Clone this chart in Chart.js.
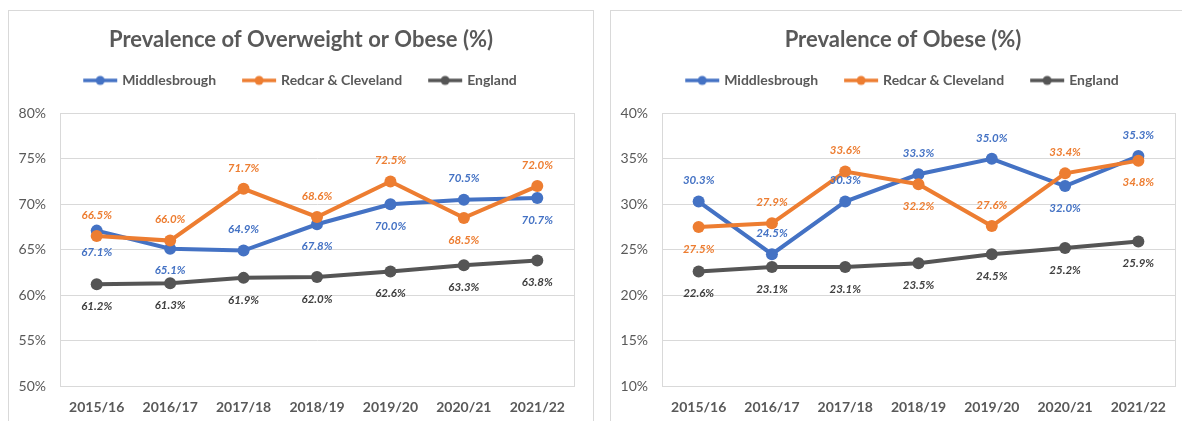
<!DOCTYPE html>
<html>
<head>
<meta charset="utf-8">
<script src="https://cdn.jsdelivr.net/npm/chart.js@4.4.1/dist/chart.umd.min.js"></script>
<style>
  body { margin: 0; background: #fff; width: 1182px; height: 421px; overflow: hidden; position: relative; }
  .frame { position: absolute; border: 1px solid #D9D9D9; border-bottom: none; background: #fff; height: 420px; }
  #f1 { left: 8px; top: 10px; width: 584px; }
  #f2 { left: 610px; top: 10px; width: 600px; border-right: none; }
  canvas { position: absolute; left: 0; top: 0; }
</style>
</head>
<body>
<div class="frame" id="f1"><canvas id="overweight" width="584" height="410"></canvas></div>
<div class="frame" id="f2"><canvas id="obese" width="584" height="410"></canvas></div>
<script>
const years = ['2015/16', '2016/17', '2017/18', '2018/19', '2019/20', '2020/21', '2021/22'];

// Prevalence of overweight or obese (%)
const owMiddlesbrough = [67.1, 65.1, 64.9, 67.8, 70.0, 70.5, 70.7];
const owRedcar = [66.5, 66.0, 71.7, 68.6, 72.5, 68.5, 72.0];
const owEngland = [61.2, 61.3, 61.9, 62.0, 62.6, 63.3, 63.8];

// Prevalence of obese (%)
const obMiddlesbrough = [30.3, 24.5, 30.3, 33.3, 35.0, 32.0, 35.3];
const obRedcar = [27.5, 27.9, 33.6, 32.2, 27.6, 33.4, 34.8];
const obEngland = [22.6, 23.1, 23.1, 23.5, 24.5, 25.2, 25.9];

const BLUE = '#4472C4', ORANGE = '#ED7D31', GREY = '#555555', TEXT = '#595959';
const FONT = 'Lato, "Open Sans", sans-serif';

// line + dot marker for the legend
function marker(color) {
    const c = document.createElement('canvas');
    c.width = 36; c.height = 12;
    const g = c.getContext('2d');
    g.strokeStyle = color; g.lineWidth = 3.5;
    g.beginPath(); g.moveTo(1, 6); g.lineTo(35, 6); g.stroke();
    g.fillStyle = color;
    g.beginPath(); g.arc(18, 6, 4.5, 0, Math.PI * 2); g.fill();
    return c;
}

const extras = {
    id: 'extras',
    afterInit(chart) {
        // leave room between legend and plot, like the Excel layout
        const legend = chart.legend;
        const fit = legend.fit;
        legend.fit = function () { fit.call(this); this.height = 68; };
    },
    beforeDatasetsDraw(chart) {
        const { ctx, chartArea: a } = chart;
        ctx.save();
        ctx.strokeStyle = '#D9D9D9';
        ctx.lineWidth = 1;
        ctx.strokeRect(Math.round(a.left) + 0.5, Math.round(a.top) + 0.5,
            Math.round(a.right - a.left), Math.round(a.bottom - a.top));
        ctx.restore();
    },
    afterDatasetsDraw(chart) {
        const ctx = chart.ctx;
        ctx.save();
        ctx.font = 'italic bold 11.5px ' + FONT;
        ctx.textAlign = 'center';
        ctx.textBaseline = 'middle';
        chart.data.datasets.forEach((ds, i) => {
            chart.getDatasetMeta(i).data.forEach((pt, j) => {
                const dy = ds.labelPos[j] === 'a' ? -21 : 22;
                ctx.fillStyle = ds.labelColor;
                ctx.fillText(ds.data[j].toFixed(1) + '%', pt.x, pt.y + dy);
            });
        });
        ctx.restore();
    }
};

function line(label, data, color, labelColor, labelPos, order) {
    return {
        label, data, order, labelColor, labelPos,
        borderColor: color,
        backgroundColor: color,
        pointBackgroundColor: color,
        pointBorderWidth: 0,
        borderWidth: 4,
        pointRadius: 6,
        tension: 0
    };
}

function makeChart(id, title, min, max, datasets, rightGap) {
    return new Chart(document.getElementById(id), {
        type: 'line',
        data: { labels: years, datasets },
        plugins: [extras],
        options: {
            responsive: false,
            animation: false,
            layout: { padding: 0 },
            plugins: {
                title: {
                    display: true,
                    text: title,
                    color: TEXT,
                    font: { family: FONT, size: 22, weight: 'bold' },
                    padding: { top: 16, bottom: -8 }
                },
                legend: {
                    position: 'top',
                    labels: {
                        usePointStyle: true,
                        pointStyleWidth: 30,
                        padding: 28,
                        color: TEXT,
                        font: { family: FONT, size: 14, weight: 'bold' },
                        generateLabels: chart => chart.data.datasets.map((ds, i) => ({
                            text: ds.label,
                            fillStyle: ds.borderColor,
                            strokeStyle: ds.borderColor,
                            lineWidth: 0,
                            pointStyle: marker(ds.borderColor),
                            fontColor: TEXT,
                            hidden: false,
                            datasetIndex: i
                        }))
                    }
                },
                tooltip: { enabled: false }
            },
            scales: {
                x: {
                    offset: true,
                    grid: { display: false, drawTicks: false },
                    border: { display: true, color: '#D9D9D9' },
                    ticks: { color: TEXT, padding: 13, font: { family: FONT, size: 14, weight: 'bold' } },
                    afterFit: s => { s.height = 35; }
                },
                y: {
                    min, max,
                    grid: { color: '#D9D9D9', drawTicks: false },
                    border: { display: true, color: '#D9D9D9' },
                    ticks: {
                        stepSize: 5,
                        padding: 14,
                        color: TEXT,
                        font: { family: FONT, size: 14 },
                        callback: v => v + '%'
                    },
                    afterFit: s => { s.width = 51; }
                },
                gap: {
                    position: 'right',
                    grid: { display: false, drawTicks: false },
                    border: { display: false },
                    ticks: { display: false },
                    afterFit: s => { s.width = rightGap; }
                }
            }
        }
    });
}

makeChart('overweight', 'Prevalence of Overweight or Obese (%)', 50, 80, [
    line('Middlesbrough', owMiddlesbrough, BLUE, BLUE, ['b', 'b', 'a', 'b', 'b', 'a', 'b'], 2),
    line('Redcar & Cleveland', owRedcar, ORANGE, ORANGE, ['a', 'a', 'a', 'a', 'a', 'b', 'a'], 1),
    line('England', owEngland, GREY, '#404040', ['b', 'b', 'b', 'b', 'b', 'b', 'b'], 3)
], 19);

makeChart('obese', 'Prevalence of Obese (%)', 10, 40, [
    line('Middlesbrough', obMiddlesbrough, BLUE, BLUE, ['a', 'a', 'a', 'a', 'a', 'b', 'a'], 2),
    line('Redcar & Cleveland', obRedcar, ORANGE, ORANGE, ['b', 'a', 'a', 'b', 'a', 'a', 'b'], 1),
    line('England', obEngland, GREY, '#404040', ['b', 'b', 'b', 'b', 'b', 'b', 'b'], 3)
], 20);
</script>
</body>
</html>
